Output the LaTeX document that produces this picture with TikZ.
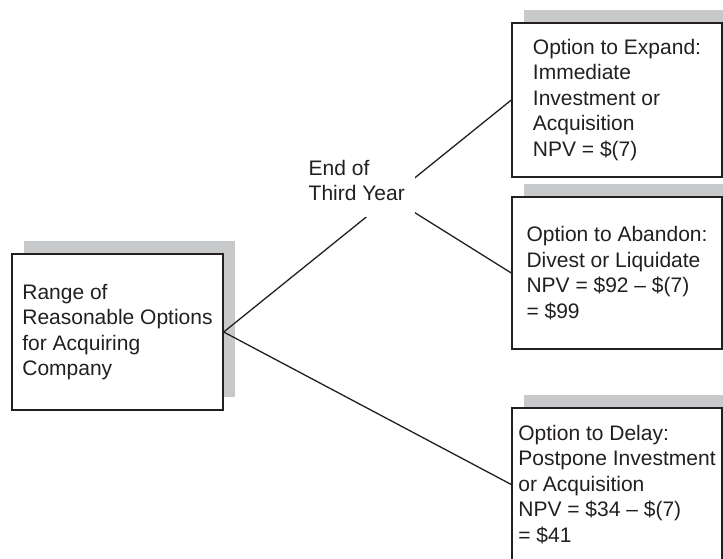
\documentclass[tikz,border=0pt]{standalone}
\usepackage{fontspec}
\setmainfont{Liberation Sans}
\usetikzlibrary{calc,shadows}
\definecolor{inkc}{RGB}{35,31,32}
\definecolor{shadowgray}{RGB}{200,201,203}
\begin{document}
\begin{tikzpicture}[x=1pt,y=-1pt,
  optbox/.style={draw=inkc, line width=1.4pt, fill=white, inner sep=0pt,
    align=left, text=inkc, font=\fontsize{21pt}{25.5pt}\selectfont,
    drop shadow={shadow xshift=12pt, shadow yshift=13pt, fill=shadowgray, opacity=1}},
  link/.style={draw=inkc, line width=1.3pt},
  tag/.style={fill=white, inner xsep=10pt, inner ysep=16pt, align=left,
    text=inkc, font=\fontsize{21pt}{25.5pt}\selectfont}]
\useasboundingbox (0,0) rectangle (723,558);
\clip (0,0) rectangle (723,558);

% decision boxes
\node[optbox, minimum width=211pt, minimum height=156pt] (rng) at (117.5,332)
  {Range of\\Reasonable Options\\for Acquiring\\Company};
\node[optbox, minimum width=210pt, minimum height=154pt] (exp) at (617,100)
  {Option to Expand:\\Immediate\\Investment or\\Acquisition\\NPV = \$(7)};
\node[optbox, minimum width=210pt, minimum height=152pt] (abn) at (617,273)
  {Option to Abandon:\\Divest or Liquidate\\NPV = \$92 -- \$(7)\\= \$99};
\node[optbox, minimum width=210pt, minimum height=153pt] (dly) at (617,484.5)
  {Option to Delay:\\Postpone Investment\\or Acquisition\\NPV = \$34 -- \$(7)\\= \$41};

% branches
\coordinate (jn) at ($(rng.east)!0.58!(exp.west)$);
\draw[link] (rng.east) -- (exp.west);
\draw[link] (jn) -- (abn.west);
\draw[link] (rng.east) -- (dly.west);

% branch point label
\node[tag, anchor=east] (eoy) at (415,180.4) {End of\\Third Year};
\end{tikzpicture}
\end{document}
